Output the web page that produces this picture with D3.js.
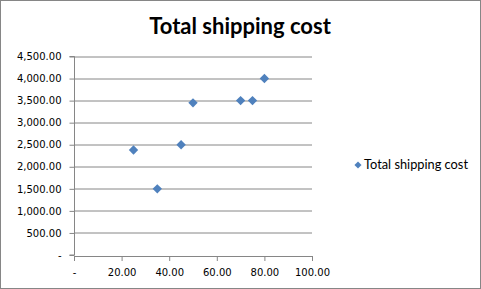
<!DOCTYPE html>
<html>
<head>
<meta charset="utf-8">
<script src="https://cdn.jsdelivr.net/npm/d3@7"></script>
<style>
  body { margin: 0; background: #fff; }
</style>
</head>
<body>
<svg id="chart"></svg>
<script>
var seriesName = "Total shipping cost";
var xValues = [25, 35, 45, 50, 70, 75, 80];
var yValues = [2380, 1500, 2500, 3450, 3500, 3500, 4000];
var xTicks = [0, 20, 40, 60, 80, 100];
var yTicks = [0, 500, 1000, 1500, 2000, 2500, 3000, 3500, 4000, 4500];

var W = 481, H = 289;
var margin = {top: 56.5, right: 169, bottom: 34, left: 74};
var width = W - margin.left - margin.right,
    height = H - margin.top - margin.bottom;

var svg = d3.select("#chart")
    .attr("width", W)
    .attr("height", H);

// chart border
svg.append("rect")
    .attr("x", 0.5).attr("y", 0.5)
    .attr("width", W - 1).attr("height", H - 1)
    .attr("fill", "#fff")
    .attr("stroke", "#868686");

svg.append("text")
    .attr("x", 240)
    .attr("y", 34)
    .attr("text-anchor", "middle")
    .style("font-family", "Lato, 'Open Sans', sans-serif")
    .style("font-weight", "bold")
    .style("font-size", "22px")
    .text(seriesName);

var g = svg.append("g")
    .attr("transform", "translate(" + margin.left + "," + margin.top + ")");

var x = d3.scaleLinear().domain([0, 100]).range([0, width]);
var y = d3.scaleLinear().domain([0, 4500]).range([height, 0]);

var fmt = function(d) { return d === 0 ? "-" : d3.format(",.2f")(d); };

// gridlines
g.selectAll(".grid")
    .data(yTicks.filter(function(d) { return d > 0; }))
    .enter().append("line")
    .attr("x1", 0).attr("x2", width)
    .attr("y1", function(d) { return Math.round(y(d)) + 0.5; })
    .attr("y2", function(d) { return Math.round(y(d)) + 0.5; })
    .attr("stroke", "#868686")
    .attr("stroke-width", 1);

var yAxis = g.append("g")
    .attr("class", "yaxis")
    .attr("transform", "translate(0.5,0)")
    .call(d3.axisLeft(y).tickValues(yTicks).tickFormat(fmt).tickSize(5).tickPadding(8));

var xAxis = g.append("g")
    .attr("class", "xaxis")
    .attr("transform", "translate(0," + (Math.round(height) + 0.5) + ")")
    .call(d3.axisBottom(x).tickValues(xTicks).tickFormat(fmt).tickSize(5).tickPadding(8));

[yAxis, xAxis].forEach(function(ax) {
    ax.selectAll("path, line").attr("stroke", "#868686");
    ax.selectAll("text")
        .attr("fill", "#000")
        .style("font-family", "'DejaVu Sans', sans-serif")
        .style("font-size", "10px");
});
yAxis.selectAll("path").attr("d", "M-5," + height + "H0V0H-5");

var diamond = d3.symbol().type(d3.symbolDiamond2).size(56);

g.selectAll(".pt")
    .data(xValues)
    .enter().append("path")
    .attr("class", "pt")
    .attr("d", diamond)
    .attr("transform", function(d, i) {
        return "translate(" + x(d) + "," + y(yValues[i]) + ")";
    })
    .attr("fill", "#4F81BD");

// legend
var legend = svg.append("g").attr("transform", "translate(358,165)");
legend.append("path")
    .attr("d", d3.symbol().type(d3.symbolDiamond2).size(32))
    .attr("fill", "#4F81BD");
legend.append("text")
    .attr("x", 6)
    .attr("y", 4)
    .style("font-family", "Lato, 'Open Sans', sans-serif")
    .style("font-size", "12.8px")
    .attr("fill", "#000")
    .text(seriesName);
</script>
</body>
</html>
